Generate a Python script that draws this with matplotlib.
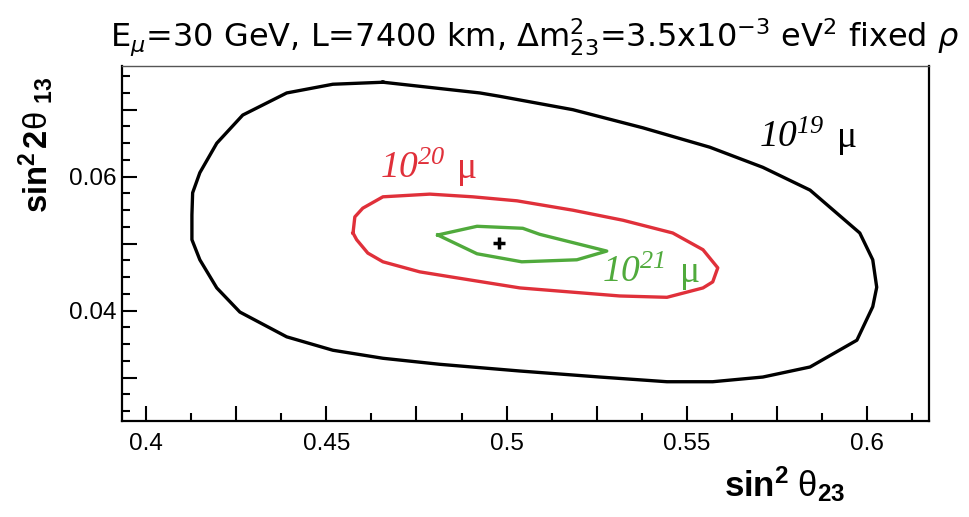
import matplotlib
matplotlib.use("Agg")
import matplotlib.pyplot as plt
from matplotlib.ticker import MultipleLocator, FuncFormatter

plt.rcParams['mathtext.fontset'] = 'custom'
plt.rcParams['mathtext.rm'] = 'Liberation Serif:italic'
plt.rcParams['mathtext.it'] = 'Liberation Serif:italic'
plt.rcParams['mathtext.bf'] = 'Liberation Sans:bold'
plt.rcParams['mathtext.sf'] = 'Liberation Sans'

# ---- data ----
black_x = [0.4657, 0.4518, 0.4390, 0.4268, 0.4196, 0.4149, 0.4129, 0.4127, 0.4127, 0.4149,
           0.4196, 0.4260, 0.4390, 0.4518, 0.4657, 0.4815, 0.5037, 0.5259, 0.5445, 0.5572,
           0.5711, 0.5842, 0.5972, 0.6016, 0.6027, 0.6016, 0.5980, 0.5842, 0.5711, 0.5564,
           0.5378, 0.5184, 0.4981, 0.4926, 0.4657]
black_y = [0.0741, 0.0738, 0.0725, 0.0692, 0.0650, 0.0606, 0.0576, 0.0543, 0.0506, 0.0476,
           0.0434, 0.0398, 0.0361, 0.0341, 0.0329, 0.0320, 0.0310, 0.0301, 0.0294, 0.0294,
           0.0301, 0.0316, 0.0356, 0.0406, 0.0435, 0.0476, 0.0516, 0.0580, 0.0614, 0.0644,
           0.0673, 0.0700, 0.0720, 0.0725, 0.0741]

red_x = [0.4574, 0.4579, 0.4601, 0.4657, 0.4787, 0.4906, 0.5029, 0.5184, 0.5323, 0.5461,
         0.5545, 0.5586, 0.5572, 0.5545, 0.5445, 0.5314, 0.5037, 0.4851, 0.4759, 0.4657,
         0.4615, 0.4584, 0.4574]
red_y = [0.0516, 0.0540, 0.0553, 0.0570, 0.0574, 0.0570, 0.0564, 0.0550, 0.0535, 0.0516,
         0.0491, 0.0464, 0.0443, 0.0434, 0.0420, 0.0422, 0.0434, 0.0450, 0.0458, 0.0473,
         0.0486, 0.0506, 0.0516]

green_x = [0.4809, 0.4918, 0.5045, 0.5092, 0.5278, 0.5195, 0.5042, 0.4918, 0.4809]
green_y = [0.0513, 0.0526, 0.0523, 0.0514, 0.0489, 0.0476, 0.0473, 0.0485, 0.0513]

best_fit = (0.498, 0.0501)

labels = ["19", "20", "21"]
label_x = [0.5700, 0.4648, 0.5265]
label_y = [0.0644, 0.0598, 0.0443]

BLACK = "black"
RED = "#e0303a"
GREEN = "#50aa3c"

fig = plt.figure(figsize=(9.69, 5.17), dpi=100)
ax = fig.add_axes([0.1259, 0.1857, 0.9587 - 0.1259, 0.8714 - 0.1857])

ax.plot(black_x, black_y, color=BLACK, lw=2.4, solid_joinstyle='round')
ax.plot(red_x, red_y, color=RED, lw=2.4, solid_joinstyle='round')
ax.plot(green_x, green_y, color=GREEN, lw=2.4, solid_joinstyle='round')
ax.plot([best_fit[0]], [best_fit[1]], marker='+', color='black', ms=9, mew=2.5)

for lab, lx, ly, col in zip(labels, label_x, label_y, [BLACK, RED, GREEN]):
    ax.text(lx, ly, r'$10^{%s}$' % lab, color=col,
            fontsize=27, ha='left', va='baseline')
    ax.annotate('\u03bc', xy=(lx, ly), xytext=(56, 0), textcoords='offset points',
                color=col, fontsize=27, family='Liberation Serif',
                ha='left', va='baseline')

ax.set_xlim(0.3933, 0.6172)
ax.set_ylim(0.02354, 0.07645)

def fmt_x(v, pos):
    k = v / 0.05
    return ('%g' % round(v, 3)) if abs(k - round(k)) < 1e-6 else ''

def fmt_y(v, pos):
    k = v / 0.02
    return ('%g' % round(v, 3)) if abs(k - round(k)) < 1e-6 else ''

ax.xaxis.set_major_locator(MultipleLocator(0.025))
ax.xaxis.set_minor_locator(MultipleLocator(0.0125))
ax.yaxis.set_major_locator(MultipleLocator(0.01))
ax.yaxis.set_minor_locator(MultipleLocator(0.0025))
ax.xaxis.set_major_formatter(FuncFormatter(fmt_x))
ax.yaxis.set_major_formatter(FuncFormatter(fmt_y))

ax.tick_params(which='both', direction='in', top=False, right=False, width=1.5,
               labelsize=17.5, labelfontfamily='Liberation Sans')
ax.tick_params(which='major', length=11)
ax.tick_params(which='minor', length=5.5)
ax.tick_params(axis='x', pad=9)
ax.tick_params(axis='y', pad=4)

for s in ['left', 'bottom', 'right']:
    ax.spines[s].set_linewidth(1.6)
ax.spines['top'].set_linewidth(1.0)
ax.spines['top'].set_color('#555555')

fig.text(535 / 969, 1 - 47 / 517,
         r'E$_{\mu}$=30 GeV, L=7400 km, $\Delta$m$^{2}_{23}$=3.5x10$^{-3}$ eV$^{2}$ fixed $\rho$',
         fontsize=23, family='DejaVu Sans', math_fontfamily='dejavusans',
         ha='center', va='baseline')

fig.text(845 / 969, 1 - 497 / 517, r'$\mathbf{sin^{2}}\ \mathsf{\theta}_{\mathbf{23}}$',
         fontsize=25, ha='right', va='baseline')

fig.text(36 / 969, 1 - 213 / 517,
         r'$\mathbf{sin^{2}}\,\mathbf{2}\mathsf{\theta}_{\enspace\mathbf{13}}$',
         fontsize=23.5, rotation=90, ha='center', va='bottom')

fig.savefig('out.png', dpi=100)
